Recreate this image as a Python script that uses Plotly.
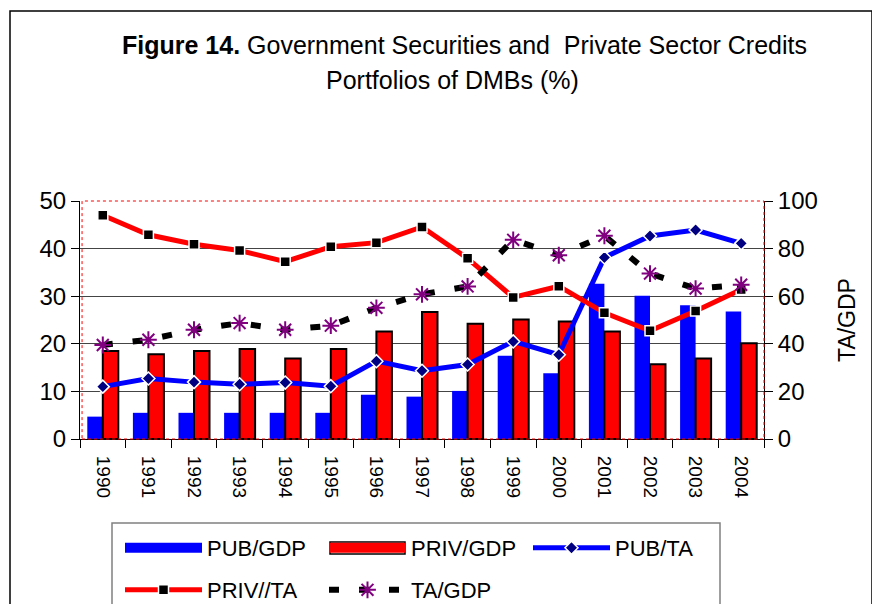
import plotly.graph_objects as go

years = ["1990", "1991", "1992", "1993", "1994", "1995", "1996", "1997",
         "1998", "1999", "2000", "2001", "2002", "2003", "2004"]
pub_gdp = [4.7, 5.5, 5.5, 5.5, 5.5, 5.5, 9.3, 8.9, 10.1, 17.5, 13.8, 32.6, 30.1, 28.1, 26.8]
priv_gdp = [18.5, 17.8, 18.5, 18.9, 16.9, 18.9, 22.6, 26.7, 24.2, 25.1, 24.7, 22.6, 15.7, 16.9, 20.1]
pub_ta = [22.0, 25.4, 23.9, 23.0, 23.7, 22.2, 32.7, 28.7, 31.3, 41.0, 35.4, 76.3, 85.3, 87.8, 82.2]
priv_ta = [94.0, 85.8, 81.8, 79.2, 74.5, 80.8, 82.5, 89.1, 75.9, 59.5, 64.2, 53.0, 45.5, 53.8, 62.8]
ta_gdp = [39.5, 41.7, 45.9, 48.7, 45.9, 47.6, 55.1, 60.8, 64.1, 83.7, 77.2, 85.4, 69.5, 63.2, 64.8]

FONT = "Liberation Sans, Arial, sans-serif"

# The page body has an 8px margin; geometry below is given in screen pixels.
OFF = 8
FIG_W, FIG_H = 880 - OFF, 604 - OFF
S_LEFT, S_RIGHT, S_TOP, S_BOTTOM = 80, 764, 201, 439   # plot area on screen
L = S_LEFT - OFF
T = S_TOP - OFF
R = FIG_W - (S_RIGHT - OFF)
B = FIG_H - (S_BOTTOM - OFF)
W = S_RIGHT - S_LEFT
H = S_BOTTOM - S_TOP


def px(x):
    return (x - S_LEFT) / W


def py(y):
    return (S_BOTTOM - y) / H


fig = go.Figure()
fig.add_trace(go.Bar(x=years, y=pub_gdp, name="PUB/GDP", marker=dict(color="#0000FF", line=dict(width=0)),
                     yaxis="y", showlegend=False))
fig.add_trace(go.Bar(x=years, y=priv_gdp, name="PRIV/GDP",
                     marker=dict(color="#FF0000", line=dict(color="black", width=2)),
                     yaxis="y", showlegend=False))
# legend-only entries for the bar series (long rectangular keys)
fig.add_trace(go.Scatter(x=[None], y=[None], name="PUB/GDP", mode="lines",
                         line=dict(color="#0000FF", width=13), legend="legend"))
fig.add_trace(go.Scatter(x=[None], y=[None], name="PRIV/GDP", mode="lines",
                         line=dict(color="#FF0000", width=12), legend="legend"))
fig.add_trace(go.Scatter(x=years, y=pub_ta, name="PUB/TA", mode="lines+markers", yaxis="y2",
                         line=dict(color="#0000FF", width=5),
                         marker=dict(symbol="diamond", size=10, color="#000080",
                                     line=dict(color="white", width=1.5)),
                         legend="legend"))
fig.add_trace(go.Scatter(x=years, y=priv_ta, name="PRIV//TA", mode="lines+markers", yaxis="y2",
                         line=dict(color="#FF0000", width=5),
                         marker=dict(symbol="square", size=10, color="black",
                                     line=dict(color="white", width=1.5)),
                         legend="legend2"))
fig.add_trace(go.Scatter(x=years, y=ta_gdp, name="TA/GDP", mode="lines+markers", yaxis="y2",
                         line=dict(color="black", width=6, dash="10px,20px"),
                         marker=dict(symbol="asterisk-open", size=14, color="#800080",
                                     line=dict(color="#800080", width=2)),
                         legend="legend2"))

legend_common = dict(orientation="h", xanchor="left", yanchor="top",
                     font=dict(family=FONT, size=22, color="black"),
                     bgcolor="rgba(0,0,0,0)", borderwidth=0,
                     itemwidth=77, entrywidth=112, itemclick=False)

fig.update_layout(
    width=FIG_W, height=FIG_H,
    margin=dict(l=L, r=R, t=T, b=B, autoexpand=False),
    paper_bgcolor="white", plot_bgcolor="white",
    font=dict(family=FONT, size=22, color="black"),
    barmode="group", bargap=0.32, bargroupgap=0,
    showlegend=True,
    legend=dict(x=px(120), y=py(527), **legend_common),
    legend2=dict(x=px(120), y=py(569), **legend_common),
    xaxis=dict(type="category", range=[-0.5, len(years) - 0.5], autorange=False,
               tickangle=90, ticks="outside", tickson="boundaries",
               ticklen=8, tickcolor="black", showline=True, linecolor="black", linewidth=1,
               ticklabelstandoff=12,
               showgrid=False, tickfont=dict(family=FONT, size=19)),
    yaxis=dict(range=[0, 50], dtick=10, ticks="outside", ticklen=8, tickcolor="black",
               showline=True, linecolor="black", linewidth=1,
               showgrid=True, gridcolor="#444444", gridwidth=1, zeroline=False,
               tickfont=dict(family=FONT, size=24)),
    yaxis2=dict(range=[0, 100], dtick=20, overlaying="y", side="right",
                ticks="outside", ticklen=8, tickcolor="black",
                showline=True, linecolor="black", linewidth=1, showgrid=False, zeroline=False,
                tickfont=dict(family=FONT, size=24),
                title=dict(text="TA/GDP", font=dict(family=FONT, size=23), standoff=22)),
    shapes=[
        # red dotted plot-area border
        dict(type="rect", xref="paper", yref="paper", x0=0.003, x1=1, y0=0, y1=1,
             line=dict(color="#FF0000", width=1, dash="dot"), layer="above"),
        # outer chart frame
        dict(type="rect", xref="paper", yref="paper", x0=px(10), x1=px(872), y0=py(640), y1=py(11),
             line=dict(color="black", width=1.5), layer="below"),
        # legend frame
        dict(type="rect", xref="paper", yref="paper", x0=px(112), x1=px(720), y0=py(640), y1=py(523),
             line=dict(color="#808080", width=1.5), layer="below"),
        # black outline of the PRIV/GDP legend key
        dict(type="rect", xref="paper", yref="paper", x0=px(330), x1=px(405), y0=py(554), y1=py(542),
             line=dict(color="black", width=1.5), layer="above"),
    ],
    annotations=[
        dict(xref="paper", yref="paper", x=px(464), y=py(45), xanchor="center", yanchor="middle",
             showarrow=False, font=dict(family=FONT, size=25, color="black"),
             text="<b>Figure 14.</b> Government Securities and \u00a0Private Sector Credits"),
        dict(xref="paper", yref="paper", x=px(452), y=py(80), xanchor="center", yanchor="middle",
             showarrow=False, font=dict(family=FONT, size=25, color="black"),
             text="Portfolios of DMBs (%)"),
    ],
)

fig.write_html("out.html")
